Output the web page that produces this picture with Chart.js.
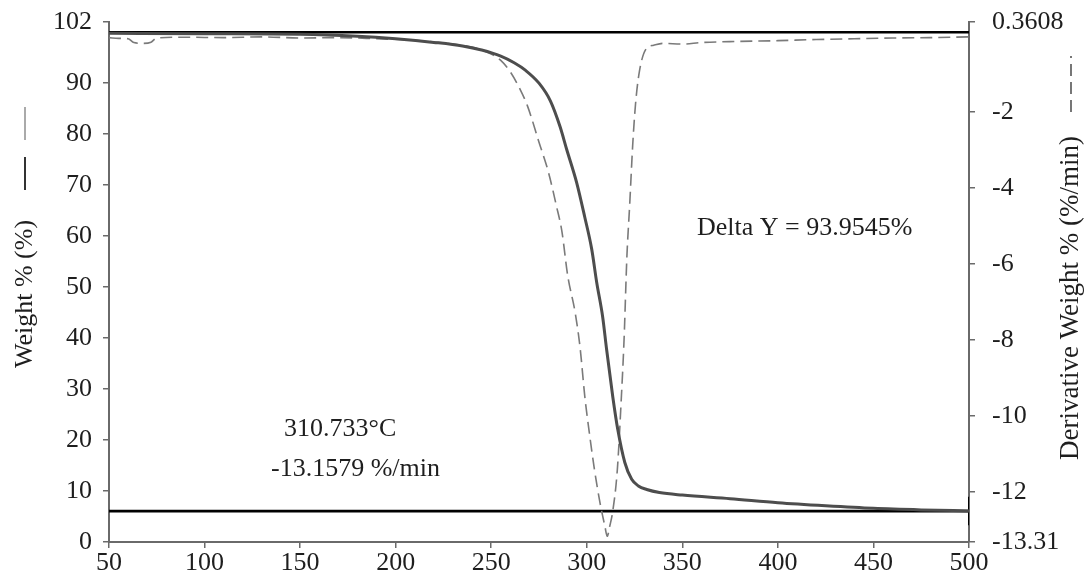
<!DOCTYPE html>
<html>
<head>
<meta charset="utf-8">
<script src="https://cdn.jsdelivr.net/npm/chart.js@4.4.1/dist/chart.umd.min.js"></script>
<style>
  html, body { margin: 0; padding: 0; background: #fff; }
  #wrap { width: 1085px; height: 576px; }
</style>
</head>
<body>
<div id="wrap"><canvas id="tga" width="1085" height="576"></canvas></div>
<script>
// weight curve (solid)
var tgTemp   = [50, 100, 150, 180, 200, 220, 235, 245, 255, 262, 268, 275, 281, 286, 289.5, 294.7, 298.9, 302.6, 305.2, 308.3, 310.4, 313.6, 316.2, 319.9, 323.5, 327, 331.4, 338, 350, 375, 400, 425, 450, 475, 500];
var tgWeight = [99.8, 99.7, 99.6, 99.2, 98.7, 98.0, 97.3, 96.5, 95.3, 94.0, 92.5, 90.0, 86.5, 81.5, 77.0, 70.5, 63.8, 57.4, 50.9, 44.2, 37.7, 28.5, 22.1, 15.6, 12.3, 11.0, 10.3, 9.7, 9.2, 8.5, 7.7, 7.1, 6.6, 6.3, 6.1];

// derivative curve (dashed)
var dtgTemp  = [50, 55, 60, 63, 68, 72, 75, 90, 110, 130, 150, 170, 190, 210, 230, 240, 250, 255, 260, 265, 269, 275, 280, 284, 287, 290, 294, 296.5, 299, 301.5, 304, 307, 309.5, 310.7, 312, 313.6, 316, 318, 319.5, 321, 322.5, 324, 325.5, 327.5, 331, 335, 340, 350, 360, 380, 400, 420, 440, 460, 480, 500];
var dtgDeriv = [-0.05, -0.07, -0.08, -0.18, -0.2, -0.17, -0.06, -0.04, -0.05, -0.03, -0.06, -0.05, -0.08, -0.12, -0.22, -0.3, -0.48, -0.65, -0.95, -1.4, -1.85, -2.8, -3.6, -4.45, -5.15, -6.3, -7.3, -8.2, -9.5, -10.5, -11.4, -12.3, -12.9, -13.16, -12.9, -12.5, -11.4, -9.6, -8.0, -5.8, -4.4, -2.9, -1.8, -0.95, -0.35, -0.25, -0.2, -0.22, -0.18, -0.15, -0.13, -0.1, -0.08, -0.06, -0.05, -0.03];

// step lines and tick labels
var stepLevels = [100, 6.05];
var stepMarkT = 500;
var stepMarkY = [8.9, 3.3];
var xTicks = [50, 100, 150, 200, 250, 300, 350, 400, 450, 500];
var leftTicks = [0, 10, 20, 30, 40, 50, 60, 70, 80, 90, 102];
var rightTicks = [0.3608, -2, -4, -6, -8, -10, -12, -13.31];

var serif = "'Liberation Serif', 'DejaVu Serif', serif";
var axisGrey = "#6a6a6a";
var txt = "#1e1e1e";

function pts(xs, ys) {
    var out = [];
    for (var i = 0; i < xs.length; i++) out.push({x: xs[i], y: ys[i]});
    return out;
}

var datasets = [{
    label: "Weight",
    data: pts(tgTemp, tgWeight),
    yAxisID: "y",
    borderColor: "#4d4d4d",
    borderWidth: 3,
    cubicInterpolationMode: "monotone"
}, {
    label: "Derivative",
    data: pts(dtgTemp, dtgDeriv),
    yAxisID: "y2",
    borderColor: "#7a7a7a",
    borderWidth: 1.6,
    borderDash: [12, 6],
    cubicInterpolationMode: "monotone"
}];
for (var k = 0; k < stepLevels.length; k++) {
    datasets.push({
        label: "step" + k,
        data: [{x: xTicks[0], y: stepLevels[k]}, {x: xTicks[xTicks.length - 1], y: stepLevels[k]}],
        yAxisID: "y",
        borderColor: "#000",
        borderWidth: 2.6
    });
}
datasets.push({
    label: "mark",
    data: [{x: stepMarkT, y: stepMarkY[0]}, {x: stepMarkT, y: stepMarkY[1]}],
    yAxisID: "y",
    borderColor: "#000",
    borderWidth: 2
});

function fixedTicks(list) {
    return function (scale) {
        scale.ticks = list.map(function (v) { return {value: v}; });
    };
}

// fixed axis sizes, no extra label padding
function fitY(w) {
    return function (s) {
        s.width = w;
        s.paddingTop = 0;
        s.paddingBottom = 0;
    };
}

var annotate = {
    id: "annotate",
    afterDraw: function (chart) {
        var c = chart.ctx;
        c.save();
        c.fillStyle = txt;
        c.font = "26px " + serif;
        c.textBaseline = "middle";
        c.textAlign = "left";
        c.fillText("Delta Y = 93.9545%", 697, 228);
        c.fillText("310.733\u00B0C", 284, 429);
        c.fillText("-13.1579 %/min", 271, 469);

        // left axis title
        c.save();
        c.translate(25, 368);
        c.rotate(-Math.PI / 2);
        c.fillText("Weight % (%)", 0, 0);
        c.restore();
        c.lineWidth = 2;
        c.strokeStyle = "#333";
        c.beginPath(); c.moveTo(25, 190); c.lineTo(25, 157); c.stroke();
        c.strokeStyle = "#aaa";
        c.beginPath(); c.moveTo(25, 140); c.lineTo(25, 107); c.stroke();

        // right axis title
        c.save();
        c.translate(1071, 460);
        c.rotate(-Math.PI / 2);
        c.font = "27px " + serif;
        c.fillText("Derivative Weight % (%/min)", 0, 0);
        c.restore();
        c.strokeStyle = "#555";
        c.lineWidth = 1.6;
        c.setLineDash([12, 6]);
        c.beginPath(); c.moveTo(1071, 112); c.lineTo(1071, 56); c.stroke();
        c.restore();
    }
};

var ctx = document.getElementById("tga").getContext("2d");
var chart = new Chart(ctx, {
    type: "line",
    data: {datasets: datasets},
    options: {
        responsive: false,
        animation: false,
        layout: {padding: {top: 22, left: 0, right: 0, bottom: 0}},
        elements: {point: {radius: 0}, line: {tension: 0}},
        plugins: {legend: {display: false}, tooltip: {enabled: false}},
        scales: {
            x: {
                type: "linear",
                min: 50,
                max: 500,
                afterBuildTicks: fixedTicks(xTicks),
                afterFit: function (s) { s.height = 34; s.paddingLeft = 0; s.paddingRight = 0; },
                border: {display: true, color: axisGrey, width: 2},
                grid: {drawOnChartArea: false, drawTicks: true, tickLength: 6, color: axisGrey, lineWidth: 1.5},
                ticks: {color: txt, font: {family: serif, size: 26}, padding: 0, maxRotation: 0, autoSkip: false}
            },
            y: {
                position: "left",
                min: 0,
                max: 102,
                afterBuildTicks: fixedTicks(leftTicks),
                afterFit: fitY(109),
                border: {display: true, color: axisGrey, width: 2},
                grid: {drawOnChartArea: false, drawTicks: true, tickLength: 6, color: axisGrey, lineWidth: 1.5},
                ticks: {color: txt, font: {family: serif, size: 26}, padding: 11, autoSkip: false}
            },
            y2: {
                position: "right",
                min: -13.31,
                max: 0.3608,
                afterBuildTicks: fixedTicks(rightTicks),
                afterFit: fitY(116),
                border: {display: true, color: axisGrey, width: 2},
                grid: {drawOnChartArea: false, drawTicks: true, tickLength: 6, color: axisGrey, lineWidth: 1.5},
                ticks: {color: txt, font: {family: serif, size: 26}, padding: 17, autoSkip: false,
                        callback: function (v) { return String(v); }}
            }
        }
    },
    plugins: [annotate]
});
</script>
</body>
</html>
